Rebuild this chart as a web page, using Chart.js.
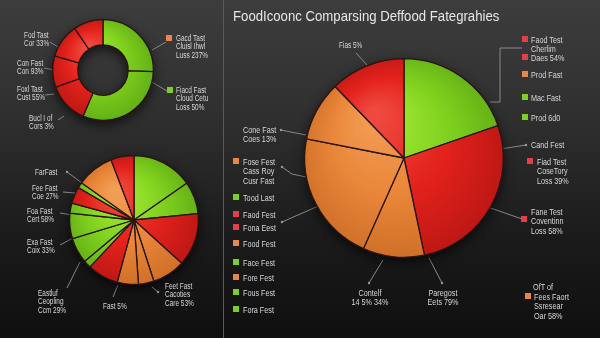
<!DOCTYPE html>
<html>
<head>
<meta charset="utf-8">
<script src="https://cdn.jsdelivr.net/npm/chart.js@4.4.1/dist/chart.umd.min.js"></script>
<style>
  body { margin: 0; width: 600px; height: 338px; overflow: hidden; background: #111; }
  #stage {
    position: relative; width: 600px; height: 338px; overflow: hidden;
    background: linear-gradient(180deg, #3d3d3d 0%, #2f2f2f 35%, #1b1b1b 70%, #0f0f0f 100%);
    font-family: "Liberation Sans", Arial, sans-serif;
  }
  canvas { position: absolute; }
  .lbl {
    position: absolute; color: #d8d8d8; font-size: 8.5px; line-height: 8.5px; white-space: nowrap;
    transform: scaleX(0.76); transform-origin: left top;
  }
  .big { font-size: 9.5px; line-height: 9.5px; }
  .ctr { text-align: center; transform: translateX(-50%) scaleX(0.76); transform-origin: center top; }
  .sq { position: absolute; width: 6px; height: 6px; }
  #title {
    position: absolute; left: 233px; top: 7px; color: #e6e6e6; font-size: 15.5px; white-space: nowrap;
    transform: scaleX(0.85); transform-origin: left top;
  }
</style>
</head>
<body>
<div id="stage">
  <canvas id="deco" width="600" height="338"></canvas>
  <canvas id="donut"></canvas>
  <canvas id="smallPie"></canvas>
  <canvas id="bigPie"></canvas>
  <div id="title">FoodIcoonc Comparsing Deffood Fategrahies</div>
</div>
<script>
// ---- data ----
const donutLabels = ['Gacd Tast', 'Fiacd Fast', 'Bucl I of', 'Foxl Tast', 'Con Fast', 'Fod Tast'];
const donutValues = [25.5, 31, 13, 10, 11, 9.5];
const donutColors = ['green', 'green', 'red', 'red', 'red', 'red'];

const smallLabels = ['A', 'B', 'Feet Fast', 'C', 'D', 'Fast 5%', 'E', 'F', 'Eastluf', 'Exa Fast', 'Foa Fast', 'Fee Fast', 'G', 'FarFast', 'H'];
const smallValues = [15.3, 8.1, 13.3, 8.3, 3.9, 5.3, 7.8, 1.9, 6.4, 6.4, 2.5, 4.2, 1.4, 9.4, 5.8];
const smallColors = ['green', 'green', 'red', 'orange', 'orange', 'orange', 'red', 'green', 'green', 'green', 'green', 'red', 'green', 'orange', 'red'];

const bigLabels = ['Mac Fast', 'Fane Test', 'Paregost', 'Fose Fest', 'Cone Fast', 'Fias 5%'];
const bigValues = [19.7, 27, 10, 21.4, 9.7, 12.2];
const bigColors = ['green', 'red', 'orange', 'orange', 'orange', 'red'];

const palette = {
  green:  { light: '#a8ec38', base: '#80d21f', dark: '#5fab14' },
  red:    { light: '#f04a40', base: '#e3221c', dark: '#b81613' },
  orange: { light: '#f39e55', base: '#e9863a', dark: '#cc6c25' }
};
const keyColors = { green: '#7ccf2a', red: '#e0404a', orange: '#e8874a' };

const PAD = 14;

// soft drop shadow under the whole ring/pie, drawn once before the slices
const shadowPlugin = {
  id: 'pieShadow',
  beforeDatasetsDraw(chart) {
    const arc = chart.getDatasetMeta(0).data[0];
    if (!arc) return;
    const c = chart.ctx;
    c.save();
    c.shadowColor = 'rgba(0,0,0,0.7)';
    c.shadowBlur = 12;
    c.shadowOffsetY = 4;
    c.fillStyle = '#111';
    c.beginPath();
    c.arc(arc.x, arc.y, arc.outerRadius, 0, Math.PI * 2);
    if (arc.innerRadius > 0) {
      c.moveTo(arc.x + arc.innerRadius, arc.y);
      c.arc(arc.x, arc.y, arc.innerRadius, 0, Math.PI * 2, true);
    }
    c.fill('evenodd');
    c.restore();
  }
};

function shaded(colors) {
  return function(ctx) {
    const p = palette[colors[ctx.dataIndex]];
    const area = ctx.chart.chartArea;
    if (!area) return p.base;
    const cx = (area.left + area.right) / 2, cy = (area.top + area.bottom) / 2;
    const r = Math.min(area.width, area.height) / 2;
    const g = ctx.chart.ctx.createRadialGradient(cx - r * 0.3, cy - r * 0.45, r * 0.05, cx, cy, r * 1.1);
    g.addColorStop(0, p.light);
    g.addColorStop(0.5, p.base);
    g.addColorStop(1, p.dark);
    return g;
  };
}

function makePie(id, cx, cy, r, labels, values, colors, cutout) {
  const cv = document.getElementById(id);
  const size = 2 * r + 2 * PAD;
  cv.width = size;
  cv.height = size;
  cv.style.left = (cx - r - PAD) + 'px';
  cv.style.top = (cy - r - PAD) + 'px';
  new Chart(cv, {
    type: cutout ? 'doughnut' : 'pie',
    data: {
      labels: labels,
      datasets: [{
        data: values,
        backgroundColor: shaded(colors),
        borderColor: '#2a1510',
        borderWidth: 1.3
      }]
    },
    options: {
      responsive: false,
      animation: false,
      events: [],
      cutout: cutout || 0,
      layout: { padding: PAD },
      plugins: { legend: { display: false }, tooltip: { enabled: false } }
    },
    plugins: [shadowPlugin]
  });
}

makePie('donut', 103, 70, 51, donutLabels, donutValues, donutColors, '50%');
makePie('smallPie', 134, 220, 65, smallLabels, smallValues, smallColors, null);
makePie('bigPie', 404, 158, 100, bigLabels, bigValues, bigColors, null);

// ---- divider and leader lines ----
const d = document.getElementById('deco').getContext('2d');
d.strokeStyle = '#5a5a5a';
d.lineWidth = 1;
d.beginPath(); d.moveTo(223.5, 0); d.lineTo(223.5, 338); d.stroke();

const leaders = [
  [[50, 42], [58, 47]], [[44, 68], [54, 70]], [[45, 95], [54, 94]], [[58, 120], [64, 116]],
  [[152, 50], [166, 42]], [[152, 82], [167, 91]],
  [[67, 172], [82, 183]], [[63, 192], [75, 193]], [[60, 213], [72, 215]], [[60, 245], [73, 238]],
  [[67, 288], [80, 262]], [[113, 297], [118, 285]], [[152, 287], [158, 292]],
  [[356, 53], [367, 65]], [[490, 102], [500, 102], [500, 48], [522, 48]],
  [[494, 150], [526, 145]], [[482, 205], [522, 219]],
  [[281, 130], [306, 135]], [[282, 167], [292, 174], [306, 177]], [[282, 222], [323, 204]],
  [[369, 283], [383, 260]], [[442, 283], [429, 258]]
];
d.strokeStyle = '#8a8a8a';
leaders.forEach(pts => {
  d.beginPath();
  d.moveTo(pts[0][0], pts[0][1]);
  pts.slice(1).forEach(p => d.lineTo(p[0], p[1]));
  d.stroke();
});
d.fillStyle = '#9a9a9a';
[[67, 172], [158, 292], [281, 130], [282, 167], [282, 222], [369, 283], [442, 283], [526, 145]].forEach(p => {
  d.beginPath(); d.arc(p[0], p[1], 1.2, 0, Math.PI * 2); d.fill();
});

// ---- text notes ----
const stage = document.getElementById('stage');
function note(x, y, lines, cls) {
  const el = document.createElement('div');
  el.className = 'lbl ' + (cls || '');
  el.style.left = x + 'px';
  el.style.top = (y - 4.5) + 'px';
  el.innerHTML = lines.join('<br>');
  stage.appendChild(el);
}
function square(x, y, color) {
  const el = document.createElement('div');
  el.className = 'sq';
  el.style.left = (x - 3) + 'px';
  el.style.top = (y - 3) + 'px';
  el.style.background = keyColors[color];
  stage.appendChild(el);
}

note(24, 35, ['Fod Tast', 'Cor 33%']);
note(17, 63, ['Con Fast', 'Con 93%']);
note(17, 89, ['Foxl Tast', 'Cust 55%']);
note(29, 118, ['Bucl I of', 'Cors 3%']);
square(169, 38, 'orange'); note(176, 38, ['Gacd Tast', 'Cluisl Ihwl', 'Luss 237%']);
square(170, 90, 'green'); note(176, 90, ['Fiacd Fast', 'Cloud Cetu', 'Loss 50%']);

note(35, 172, ['FarFast']);
note(32, 188, ['Fee Fast', 'Coe 27%']);
note(27, 211, ['Foa Fast', 'Cert 58%']);
note(27, 242, ['Exa Fast', 'Coix 33%']);
note(38, 293, ['Eastluf', 'Ceopling', 'Ccm 29%']);
note(103, 306, ['Fast 5%']);
note(165, 286, ['Feet Fast', 'Cacoties', 'Care 53%']);

note(339, 45, ['Fias 5%']);
square(525, 39, 'red'); note(531, 39, ['Faod Test', 'Cherlim'], 'big');
square(525, 57, 'red'); note(531, 57, ['Daes 54%'], 'big');
square(525, 74, 'orange'); note(531, 74, ['Prod Fast'], 'big');
square(525, 97, 'green'); note(531, 97, ['Mac Fast'], 'big');
square(525, 117, 'green'); note(531, 117, ['Prod 6d0'], 'big');
note(531, 144, ['Cand Fest'], 'big');
square(530, 161, 'red'); note(537, 161, ['Fiad Test', 'CoseTory', 'Loss 39%'], 'big');
square(524, 219, 'red'); note(531, 211, ['Fane Test', 'Coventinn', 'Loss 58%'], 'big');

note(243, 129, ['Cone Fast', 'Coes 13%'], 'big');
square(236, 161, 'orange'); note(243, 161, ['Fose Fest', 'Cass Roy', 'Cusr Fast'], 'big');
square(236, 197, 'green'); note(243, 197, ['Tood Last'], 'big');
square(236, 214, 'red'); note(243, 214, ['Faod Fest'], 'big');
square(236, 227, 'red'); note(243, 227, ['Fona Eest'], 'big');
square(236, 243, 'orange'); note(243, 243, ['Food Fest'], 'big');
square(236, 262, 'green'); note(243, 262, ['Face Fest'], 'big');
square(236, 277, 'orange'); note(243, 277, ['Fore Fest'], 'big');
square(236, 292, 'green'); note(243, 292, ['Fous Fest'], 'big');
square(236, 309, 'green'); note(243, 309, ['Fora Fest'], 'big');

note(370, 292, ['Contelf', '14 5% 34%'], 'big ctr');
note(443, 292, ['Paregost', 'Eets 79%'], 'big ctr');
note(543, 286, ['OfT of'], 'big ctr');
square(528, 296, 'orange'); note(534, 296, ['Fees Faort', 'Ssresear', 'Oar 58%'], 'big');
</script>
</body>
</html>
